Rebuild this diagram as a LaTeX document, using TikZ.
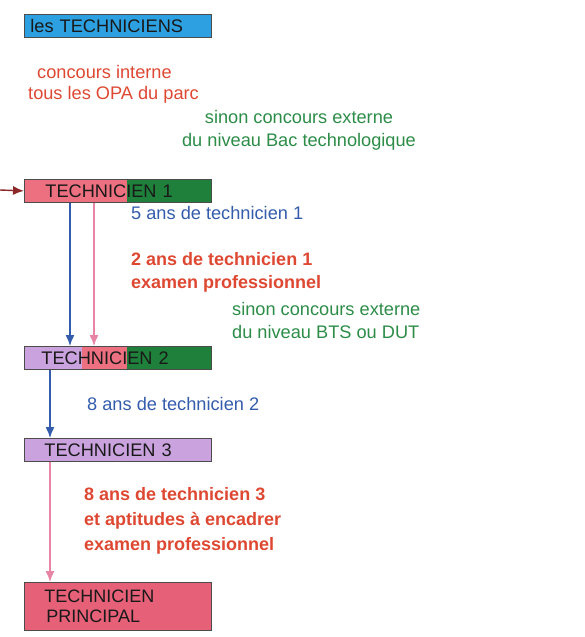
\documentclass[tikz,border=0pt]{standalone}
\usepackage{fontspec}
\setmainfont{Liberation Sans}
\usetikzlibrary{arrows.meta}
\definecolor{headblue}{RGB}{45,160,225}
\definecolor{rosefill}{RGB}{236,112,128}
\definecolor{greenfill}{RGB}{30,128,58}
\definecolor{lilacfill}{RGB}{202,162,222}
\definecolor{redfill}{RGB}{230,96,120}
\definecolor{redtext}{RGB}{222,72,50}
\definecolor{greentext}{RGB}{44,140,72}
\definecolor{bluetext}{RGB}{52,92,172}
\definecolor{pinkline}{RGB}{232,132,164}
\definecolor{brownline}{RGB}{140,40,40}
\tikzset{
  grade/.style={draw=black!70, line width=0.8pt, minimum width=187pt, minimum height=23pt,
    anchor=north west, inner xsep=0pt, text width=187pt, align=left, text=black!90},
  note/.style={anchor=west, inner sep=0pt, align=left},
  up/.style={-{Latex[length=11pt,width=9pt]}, line width=1.4pt}
}
\begin{document}
\begin{tikzpicture}[x=1pt,y=-1pt,font=\fontsize{18.2}{23}\selectfont]
  \useasboundingbox (0,0) rectangle (585,637);

  % les TECHNICIENS
  \node[grade,fill=headblue] (head) at (24,14) {\hspace*{6pt}les TECHNICIENS};

  \node[note,text=redtext] (int1) at (37,72) {concours interne};
  \node[note,text=redtext] (int2) at (28,95) {tous les OPA du parc};
  \node[text=greentext,align=center,inner sep=0pt] (ext1) at (299,130.5)
    {sinon concours externe\\du niveau Bac technologique};

  % technicien 1
  \fill[rosefill] (24,179) rectangle (127,202);
  \fill[greenfill] (127,179) rectangle (211,202);
  \node[grade] (t1) at (24,179) {\hspace*{21pt}TECHNICIEN 1};
  \coordinate (entry) at (0,190);
  \draw[up,brownline] (entry) -- (t1.west);

  \node[note,text=bluetext] (d1) at (131,213) {5 ans de technicien 1};
  \node[note,text=redtext,font=\fontsize{18}{23}\selectfont\bfseries] (d2) at (131,272.5)
    {2 ans de technicien 1\\examen professionnel};
  \node[note,text=greentext] (ext2) at (232,320.5)
    {sinon concours externe\\du niveau BTS ou DUT};

  % technicien 2
  \fill[lilacfill] (24,346) rectangle (82,369);
  \fill[rosefill] (82,346) rectangle (127,369);
  \fill[greenfill] (127,346) rectangle (211,369);
  \node[grade] (t2) at (24,346) {\hspace*{17pt}TECHNICIEN 2};
  \draw[up,bluetext] ([xshift=46pt]t1.south west) -- ([xshift=46pt]t2.north west);
  \draw[up,pinkline] ([xshift=70pt]t1.south west) -- ([xshift=70pt]t2.north west);

  \node[note,text=bluetext] (d3) at (87,404) {8 ans de technicien 2};

  % technicien 3
  \node[grade,fill=lilacfill] (t3) at (24,438) {\hspace*{20pt}TECHNICIEN 3};
  \draw[up,bluetext] ([xshift=26pt]t2.south west) -- ([xshift=26pt]t3.north west);

  \node[note,text=redtext,font=\fontsize{18}{25}\selectfont\bfseries] (d4) at (84,521)
    {8 ans de technicien 3\\et aptitudes à encadrer\\examen professionnel};

  % technicien principal
  \node[grade,fill=redfill,minimum height=48pt,font=\fontsize{18}{20}\selectfont] (tp) at (24,582)
    {\hspace*{20pt}TECHNICIEN\\\hspace*{22pt}PRINCIPAL};
  \draw[up,pinkline] ([xshift=26pt]t3.south west) -- ([xshift=26pt]tp.north west);
\end{tikzpicture}
\end{document}
